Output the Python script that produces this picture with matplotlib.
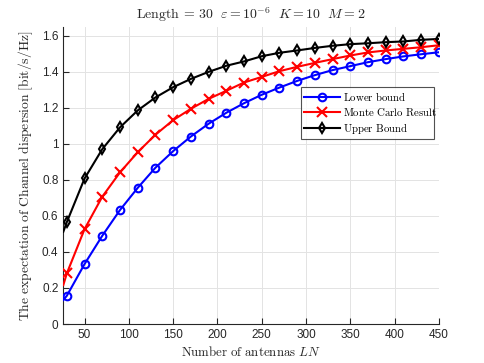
import numpy as np
import matplotlib
matplotlib.use('Agg')
import matplotlib.pyplot as plt

# ---- data ----
ln_markers = [30, 50, 70, 90, 110, 130, 150, 170, 190, 210, 230,
              250, 270, 290, 310, 330, 350, 370, 390, 410, 430, 450]

lower_bound = [0.157, 0.333, 0.490, 0.633, 0.756, 0.868, 0.960, 1.041, 1.112, 1.173, 1.226,
               1.273, 1.313, 1.350, 1.382, 1.410, 1.432, 1.454, 1.471, 1.486, 1.498, 1.509]
monte_carlo = [0.281, 0.527, 0.707, 0.842, 0.954, 1.051, 1.132, 1.195, 1.250, 1.295, 1.341,
               1.372, 1.404, 1.428, 1.450, 1.471, 1.491, 1.508, 1.519, 1.528, 1.537, 1.548]
upper_bound = [0.566, 0.808, 0.971, 1.092, 1.186, 1.258, 1.315, 1.361, 1.400, 1.434, 1.458,
               1.487, 1.506, 1.519, 1.533, 1.545, 1.554, 1.559, 1.565, 1.569, 1.578, 1.583]

# curves continue a little left of the first marker
ln_start = 26
lower_start = 0.133
monte_start = 0.216
upper_start = 0.512

xticks = [50, 100, 150, 200, 250, 300, 350, 400, 450]
yticks = [0, 0.2, 0.4, 0.6, 0.8, 1, 1.2, 1.4, 1.6]
ytick_labels = ['0', '0.2', '0.4', '0.6', '0.8', '1', '1.2', '1.4', '1.6']

plt.rcParams['mathtext.fontset'] = 'cm'
plt.rcParams['font.family'] = 'Liberation Sans'

fig = plt.figure(figsize=(4.85, 3.63), dpi=100)
ax = fig.add_axes([0.1305, 0.1074, 0.7745, 0.8186])

series = [
    (lower_start, lower_bound, 'blue', 'o', 5.5, r'$\mathrm{Lower\ bound}$'),
    (monte_start, monte_carlo, 'red', 'x', 6.5, r'$\mathrm{Monte\ Carlo\ Result}$'),
    (upper_start, upper_bound, 'black', 'd', 5.6, r'$\mathrm{Upper\ Bound}$'),
]
for start, vals, col, mk, ms, lab in series:
    xs = [ln_start] + ln_markers
    ys = [start] + vals
    ax.plot(xs, ys, color=col, lw=1.5, zorder=3)
    ax.plot(ln_markers, vals, linestyle='none', marker=mk, ms=ms, mew=1.5,
            mec=col, mfc='none', color=col, zorder=4)
    # legend proxy
    ax.plot([], [], color=col, lw=1.5, marker=mk, ms=ms, mew=1.5, mfc='none', label=lab)

ax.set_xlim(ln_start, 450)
ax.set_ylim(0, 1.65)
ax.set_xticks(xticks)
ax.set_yticks(yticks)
ax.set_yticklabels(ytick_labels)

axc = (0.15, 0.15, 0.15)
ax.grid(True, color='#e3e3e3', lw=0.7)
ax.set_axisbelow(True)
for s in ['top', 'right']:
    ax.spines[s].set_visible(False)
for s in ['left', 'bottom']:
    ax.spines[s].set_color(axc)
    ax.spines[s].set_linewidth(0.8)
ax.tick_params(direction='in', length=4, width=0.8, colors=axc, labelsize=8.5)

ax.set_xlabel(r'$\mathrm{Number\ of\ antennas}\ LN$', fontsize=9.3, color=axc, labelpad=3)
ax.set_ylabel(r'$\mathrm{The\ expectation\ of\ Channel\ dispersion\ [bit/s/Hz]}$',
              fontsize=9.8, color=axc, labelpad=5)
ax.set_title(r'$\mathrm{Length}\,=\,30\ \ \varepsilon = 10^{-6}\ \ K = 10\ \ M = 2$',
             fontsize=10, color=axc, pad=6)

leg = ax.legend(loc='lower left', bbox_to_anchor=(0.633, 0.623, 0.354, 0.139),
                mode='expand', fontsize=7.8, frameon=True, fancybox=False,
                edgecolor=axc, borderpad=0.3, labelspacing=0.25, handlelength=3.3,
                handletextpad=0.3, borderaxespad=0)
leg.get_frame().set_linewidth(0.8)

fig.savefig('out.png', dpi=100)
